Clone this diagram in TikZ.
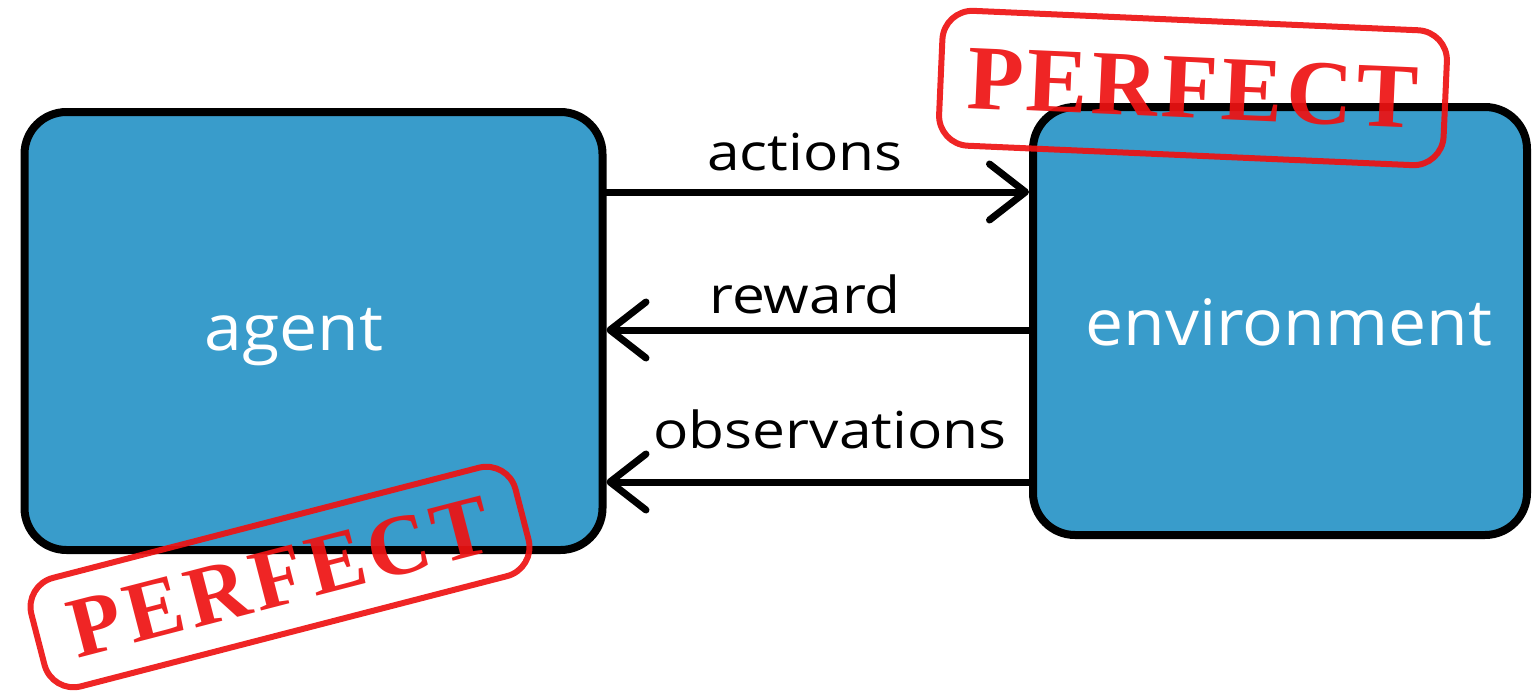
\documentclass[tikz,border=0pt]{standalone}
\usepackage{fontspec}
\setmainfont{Open Sans}
\newfontfamily\stampfont{Liberation Serif}
\usetikzlibrary{arrows.meta}
\definecolor{boxblue}{RGB}{57,156,203}
\definecolor{stampred}{RGB}{238,18,18}
\tikzset{
  bigbox/.style={draw=black, fill=boxblue, line width=8pt, rounded corners=42pt, inner sep=0pt},
  boxtext/.style={text=white, font=\fontsize{64}{70}\selectfont, anchor=base, xscale=1.06, inner sep=0pt},
  lbl/.style={text=black, font=\fontsize{51}{56}\selectfont, anchor=base, xscale=1.15, inner sep=0pt},
  arr/.style={line width=7pt, line cap=round, -{Straight Barb[length=36pt,width=56pt,round]}},
  stampbox/.style={draw=stampred, text=stampred, line width=6pt, rounded corners=30pt, opacity=0.92,
    font=\stampfont\bfseries, inner sep=0pt}
}
\begin{document}
\begin{tikzpicture}[x=1pt,y=-1pt]
\useasboundingbox (0,0) rectangle (1534,693);
% boxes
\node[bigbox, minimum width=578pt, minimum height=438pt] (agent) at (313.5,331) {};
\node[bigbox, minimum width=494pt, minimum height=428pt] (env) at (1280,321) {};
\node[boxtext] (agenttxt) at (294,350) {agent};
\node[boxtext] (envtxt) at (1289,345) {environment};
% arrows
\draw[arr] (agent.east |- 0,192) -- (env.west |- 0,192);
\draw[arr] (env.west |- 0,330) -- (agent.east |- 0,330);
\draw[arr] (env.west |- 0,482) -- (agent.east |- 0,482);
% labels
\node[lbl] (lact) at (805,170) {actions};
\node[lbl] (lrew) at (805,313) {reward};
\node[lbl] (lobs) at (830,448) {observations};
% stamps
\node[stampbox, rotate=-2.5, minimum width=505pt, minimum height=135pt] (stamp1) at (1193,88)
  {\fontsize{92}{100}\selectfont\addfontfeatures{LetterSpace=4}PERFECT};
\node[stampbox, rotate=14.5, minimum width=500pt, minimum height=112pt] (stamp2) at (280,577)
  {\fontsize{86}{90}\selectfont\addfontfeatures{LetterSpace=6}PERFECT};
\end{tikzpicture}
\end{document}
